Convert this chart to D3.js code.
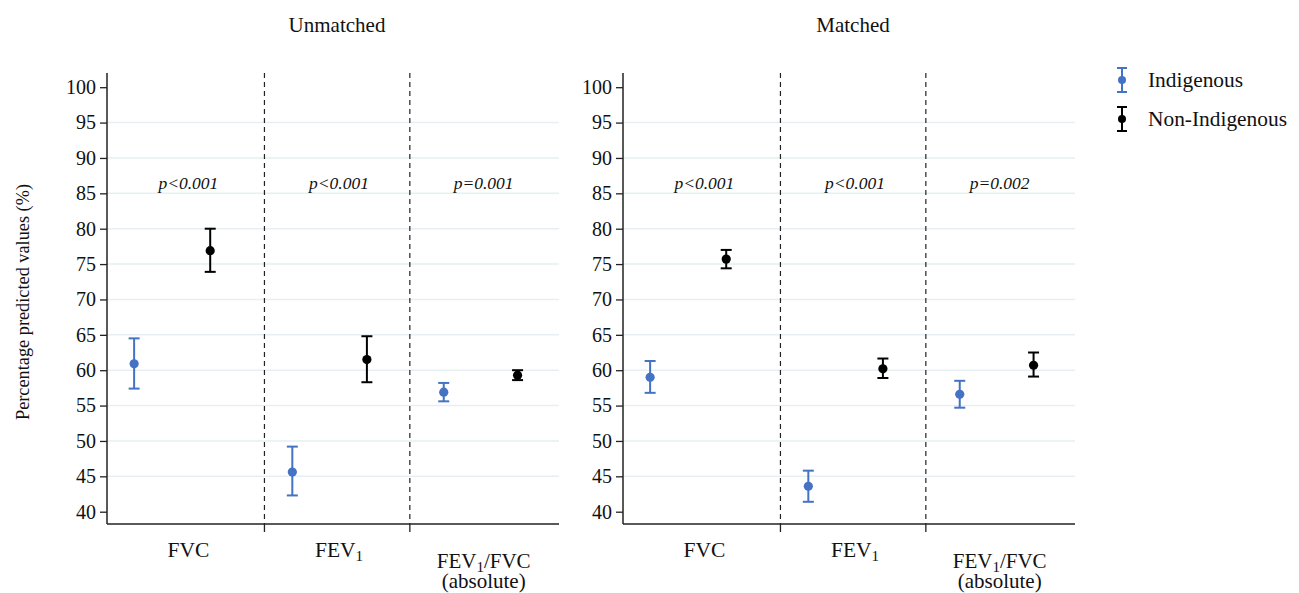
<!DOCTYPE html>
<html>
<head>
<meta charset="utf-8">
<script src="https://cdn.jsdelivr.net/npm/d3@7"></script>
</head>
<body style="margin:0; background:#fff">
<svg id="chart" width="1299" height="593" font-family="Liberation Serif"></svg>
<script>
// outcomes shown in each panel
const outcomes = ["FVC", "FEV1", "FEV1/FVC"];
const panelTitles = ["Unmatched", "Matched"];
const groups = ["Indigenous", "Non-Indigenous"];
const yTicks = [40, 45, 50, 55, 60, 65, 70, 75, 80, 85, 90, 95, 100];

// mean, lower CI, upper CI per outcome
const unmatchedIndigenous = [[60.9, 57.4, 64.5], [45.6, 42.3, 49.2], [56.9, 55.6, 58.2]];
const unmatchedNonIndigenous = [[76.9, 73.9, 80.0], [61.5, 58.3, 64.8], [59.3, 58.6, 60.0]];
const matchedIndigenous = [[59.0, 56.8, 61.3], [43.6, 41.4, 45.8], [56.6, 54.7, 58.5]];
const matchedNonIndigenous = [[75.7, 74.4, 77.0], [60.2, 58.9, 61.65], [60.7, 59.1, 62.5]];

const unmatchedP = ["p<0.001", "p<0.001", "p=0.001"];
const matchedP = ["p<0.001", "p<0.001", "p=0.002"];

// x positions (panel units) of the markers, dividers and labels
const indigenousX = [0.36, 2.46, 4.47];
const nonIndigenousX = [1.37, 3.45, 5.45];
const dividerX = [2.09, 4.02];
const labelX = [1.08, 3.08, 5.0];

const colors = { "Indigenous": "#4472c4", "Non-Indigenous": "#000000" };
const fontFam = "Liberation Serif";

const svg = d3.select("#chart");

const y = d3.scaleLinear().domain([40, 100]).range([511.7, 87.2]);
const plotTop = 73, plotBottom = 524;

const panels = [
  { x0: 107, title: panelTitles[0], ind: unmatchedIndigenous, non: unmatchedNonIndigenous, p: unmatchedP },
  { x0: 623, title: panelTitles[1], ind: matchedIndigenous, non: matchedNonIndigenous, p: matchedP }
];

function addText(g, x, yy, size, str) {
  return g.append("text").attr("x", x).attr("y", yy)
    .attr("font-family", fontFam).attr("font-size", size).attr("fill", "#111")
    .text(str);
}

function errorBar(g, cx, vals, color) {
  const cap = 5.5;
  g.append("line").attr("x1", cx).attr("x2", cx)
    .attr("y1", y(vals[1])).attr("y2", y(vals[2]))
    .attr("stroke", color).attr("stroke-width", 2);
  [vals[1], vals[2]].forEach(v => {
    g.append("line").attr("x1", cx - cap).attr("x2", cx + cap)
      .attr("y1", y(v)).attr("y2", y(v))
      .attr("stroke", color).attr("stroke-width", 2);
  });
  g.append("circle").attr("cx", cx).attr("cy", y(vals[0])).attr("r", 4.6).attr("fill", color);
}

panels.forEach(p => {
  const x = d3.scaleLinear().domain([0, 6]).range([p.x0, p.x0 + 452]);
  const g = svg.append("g");

  //gridlines
  g.selectAll(".grid")
    .data(yTicks.filter(t => t > 40 && t < 100))
    .enter().append("line")
    .attr("x1", x(0)).attr("x2", x(6))
    .attr("y1", d => y(d)).attr("y2", d => y(d))
    .attr("stroke", "#e6eff1").attr("stroke-width", 1.5);

  //y axis
  const yAxis = g.append("g")
    .attr("transform", `translate(${p.x0},0)`)
    .call(d3.axisLeft(y).tickValues(yTicks).tickSize(7).tickPadding(4));
  yAxis.attr("font-family", fontFam).attr("font-size", 20);
  yAxis.select(".domain").remove();
  yAxis.selectAll(".tick line").attr("stroke", "#222").attr("stroke-width", 1.3);
  yAxis.selectAll(".tick text").attr("fill", "#111");

  g.append("line").attr("x1", p.x0).attr("x2", p.x0)
    .attr("y1", plotTop).attr("y2", plotBottom)
    .attr("stroke", "#222").attr("stroke-width", 1.5);
  g.append("line").attr("x1", p.x0).attr("x2", x(6))
    .attr("y1", plotBottom).attr("y2", plotBottom)
    .attr("stroke", "#222").attr("stroke-width", 1.5);

  //dividers
  dividerX.forEach(d => {
    g.append("line").attr("x1", x(d)).attr("x2", x(d))
      .attr("y1", plotTop).attr("y2", plotBottom)
      .attr("stroke", "#222").attr("stroke-width", 1.2).attr("stroke-dasharray", "5,4");
    g.append("line").attr("x1", x(d)).attr("x2", x(d))
      .attr("y1", plotBottom).attr("y2", plotBottom + 8)
      .attr("stroke", "#222").attr("stroke-width", 1.3);
  });

  //p values
  p.p.forEach((t, i) => {
    addText(g, x(labelX[i]), 189, 17.5, t)
      .attr("text-anchor", "middle").attr("font-style", "italic");
  });

  //markers
  outcomes.forEach((o, i) => {
    errorBar(g, x(indigenousX[i]), p.ind[i], colors["Indigenous"]);
    errorBar(g, x(nonIndigenousX[i]), p.non[i], colors["Non-Indigenous"]);
  });

  //category labels
  addText(g, x(labelX[0]), 557, 21.5, outcomes[0]).attr("text-anchor", "middle");
  const fev = addText(g, x(labelX[1]), 557, 21.5, null).attr("text-anchor", "middle");
  fev.append("tspan").text("FEV");
  fev.append("tspan").attr("dy", 4).attr("font-size", 15).text("1");
  const ratio = addText(g, x(labelX[2]), 568, 21, null).attr("text-anchor", "middle");
  ratio.append("tspan").text("FEV");
  ratio.append("tspan").attr("dy", 4).attr("font-size", 15).text("1");
  ratio.append("tspan").attr("dy", -4).text("/FVC");
  addText(g, x(labelX[2]), 588, 21, "(absolute)").attr("text-anchor", "middle");

  //panel title
  addText(g, p.x0 + 230, 32, 21, p.title).attr("text-anchor", "middle");
});

//y title
addText(svg, 0, 0, 18.3, "Percentage predicted values (%)")
  .attr("transform", "translate(29,302) rotate(-90)")
  .attr("text-anchor", "middle");

//legend
const legend = svg.append("g");
groups.forEach((grp, i) => {
  const cy = 80 + i * 39;
  const c = colors[grp];
  legend.append("line").attr("x1", 1122).attr("x2", 1122).attr("y1", cy - 12).attr("y2", cy + 12)
    .attr("stroke", c).attr("stroke-width", 2);
  [cy - 12, cy + 12].forEach(v => legend.append("line")
    .attr("x1", 1117).attr("x2", 1127).attr("y1", v).attr("y2", v)
    .attr("stroke", c).attr("stroke-width", 2));
  legend.append("circle").attr("cx", 1122).attr("cy", cy).attr("r", 4).attr("fill", c);
  addText(legend, 1148, cy + 7, 21.4, grp);
});
</script>
</body>
</html>
